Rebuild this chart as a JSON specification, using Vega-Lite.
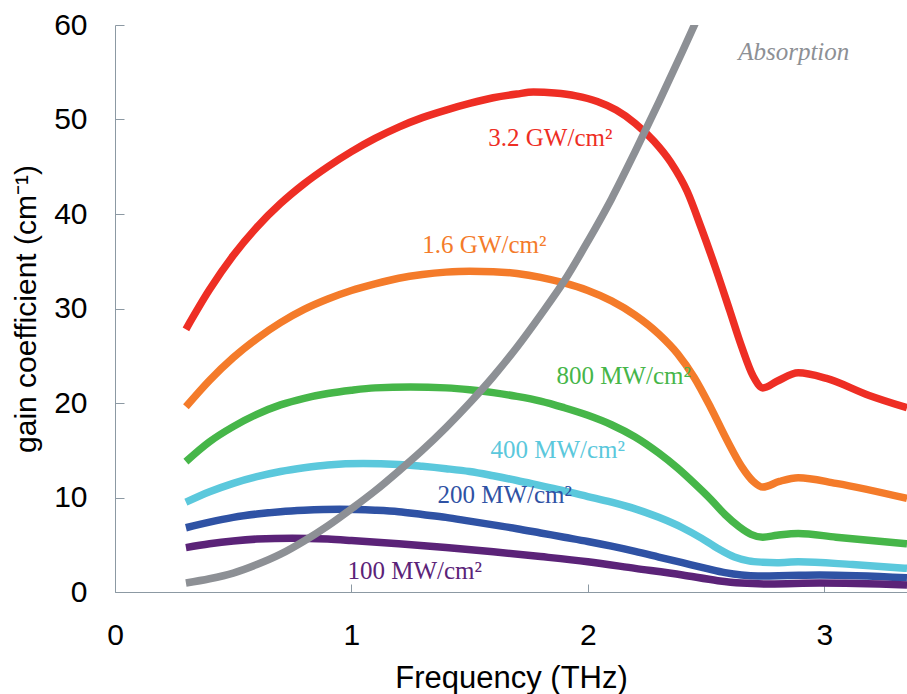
{
  "$schema": "https://vega.github.io/schema/vega-lite/v6.json",
  "width": 792,
  "height": 567,
  "autosize": {"type": "none"},
  "padding": {"left": 115, "top": 25, "right": 0, "bottom": 102},
  "background": "white",
  "view": {"stroke": null},
  "datasets": {
    "curves": [
      {"series": "3.2 GW", "f": 0.30, "g": 27.8}, {"series": "3.2 GW", "f": 0.40, "g": 32.0}, {"series": "3.2 GW", "f": 0.50, "g": 35.6}, {"series": "3.2 GW", "f": 0.60, "g": 38.6}, {"series": "3.2 GW", "f": 0.70, "g": 41.1}, {"series": "3.2 GW", "f": 0.80, "g": 43.2}, {"series": "3.2 GW", "f": 0.90, "g": 45.0}, {"series": "3.2 GW", "f": 1.00, "g": 46.6}, {"series": "3.2 GW", "f": 1.10, "g": 48.0}, {"series": "3.2 GW", "f": 1.20, "g": 49.2}, {"series": "3.2 GW", "f": 1.30, "g": 50.2}, {"series": "3.2 GW", "f": 1.40, "g": 51.0}, {"series": "3.2 GW", "f": 1.50, "g": 51.7}, {"series": "3.2 GW", "f": 1.60, "g": 52.3}, {"series": "3.2 GW", "f": 1.70, "g": 52.7}, {"series": "3.2 GW", "f": 1.77, "g": 52.9}, {"series": "3.2 GW", "f": 1.86, "g": 52.8}, {"series": "3.2 GW", "f": 1.95, "g": 52.5}, {"series": "3.2 GW", "f": 2.04, "g": 51.9}, {"series": "3.2 GW", "f": 2.12, "g": 51.0}, {"series": "3.2 GW", "f": 2.20, "g": 49.6}, {"series": "3.2 GW", "f": 2.28, "g": 47.7}, {"series": "3.2 GW", "f": 2.35, "g": 45.5}, {"series": "3.2 GW", "f": 2.42, "g": 42.4}, {"series": "3.2 GW", "f": 2.48, "g": 38.5}, {"series": "3.2 GW", "f": 2.54, "g": 34.3}, {"series": "3.2 GW", "f": 2.60, "g": 29.8}, {"series": "3.2 GW", "f": 2.65, "g": 26.0}, {"series": "3.2 GW", "f": 2.70, "g": 22.8}, {"series": "3.2 GW", "f": 2.74, "g": 21.6}, {"series": "3.2 GW", "f": 2.80, "g": 22.3}, {"series": "3.2 GW", "f": 2.89, "g": 23.2}, {"series": "3.2 GW", "f": 3.01, "g": 22.6}, {"series": "3.2 GW", "f": 3.19, "g": 20.8}, {"series": "3.2 GW", "f": 3.35, "g": 19.5},
      {"series": "1.6 GW", "f": 0.30, "g": 19.6}, {"series": "1.6 GW", "f": 0.40, "g": 22.4}, {"series": "1.6 GW", "f": 0.50, "g": 24.8}, {"series": "1.6 GW", "f": 0.60, "g": 26.8}, {"series": "1.6 GW", "f": 0.70, "g": 28.5}, {"series": "1.6 GW", "f": 0.80, "g": 29.9}, {"series": "1.6 GW", "f": 0.90, "g": 31.0}, {"series": "1.6 GW", "f": 1.00, "g": 31.9}, {"series": "1.6 GW", "f": 1.10, "g": 32.6}, {"series": "1.6 GW", "f": 1.20, "g": 33.2}, {"series": "1.6 GW", "f": 1.30, "g": 33.6}, {"series": "1.6 GW", "f": 1.40, "g": 33.85}, {"series": "1.6 GW", "f": 1.50, "g": 33.95}, {"series": "1.6 GW", "f": 1.60, "g": 33.9}, {"series": "1.6 GW", "f": 1.70, "g": 33.7}, {"series": "1.6 GW", "f": 1.80, "g": 33.3}, {"series": "1.6 GW", "f": 1.90, "g": 32.7}, {"series": "1.6 GW", "f": 2.00, "g": 31.9}, {"series": "1.6 GW", "f": 2.10, "g": 30.8}, {"series": "1.6 GW", "f": 2.20, "g": 29.3}, {"series": "1.6 GW", "f": 2.30, "g": 27.3}, {"series": "1.6 GW", "f": 2.38, "g": 25.2}, {"series": "1.6 GW", "f": 2.45, "g": 22.7}, {"series": "1.6 GW", "f": 2.52, "g": 19.5}, {"series": "1.6 GW", "f": 2.59, "g": 16.0}, {"series": "1.6 GW", "f": 2.65, "g": 13.3}, {"series": "1.6 GW", "f": 2.70, "g": 11.7}, {"series": "1.6 GW", "f": 2.74, "g": 11.1}, {"series": "1.6 GW", "f": 2.81, "g": 11.7}, {"series": "1.6 GW", "f": 2.89, "g": 12.1}, {"series": "1.6 GW", "f": 3.05, "g": 11.5}, {"series": "1.6 GW", "f": 3.35, "g": 9.9},
      {"series": "800 MW", "f": 0.30, "g": 13.8}, {"series": "800 MW", "f": 0.40, "g": 15.9}, {"series": "800 MW", "f": 0.50, "g": 17.5}, {"series": "800 MW", "f": 0.60, "g": 18.8}, {"series": "800 MW", "f": 0.70, "g": 19.8}, {"series": "800 MW", "f": 0.80, "g": 20.5}, {"series": "800 MW", "f": 0.90, "g": 21.0}, {"series": "800 MW", "f": 1.00, "g": 21.35}, {"series": "800 MW", "f": 1.10, "g": 21.6}, {"series": "800 MW", "f": 1.25, "g": 21.7}, {"series": "800 MW", "f": 1.40, "g": 21.6}, {"series": "800 MW", "f": 1.50, "g": 21.4}, {"series": "800 MW", "f": 1.60, "g": 21.1}, {"series": "800 MW", "f": 1.70, "g": 20.7}, {"series": "800 MW", "f": 1.80, "g": 20.2}, {"series": "800 MW", "f": 1.90, "g": 19.5}, {"series": "800 MW", "f": 2.00, "g": 18.7}, {"series": "800 MW", "f": 2.10, "g": 17.7}, {"series": "800 MW", "f": 2.20, "g": 16.4}, {"series": "800 MW", "f": 2.30, "g": 14.7}, {"series": "800 MW", "f": 2.38, "g": 13.1}, {"series": "800 MW", "f": 2.45, "g": 11.5}, {"series": "800 MW", "f": 2.52, "g": 9.8}, {"series": "800 MW", "f": 2.58, "g": 8.2}, {"series": "800 MW", "f": 2.64, "g": 6.9}, {"series": "800 MW", "f": 2.69, "g": 6.1}, {"series": "800 MW", "f": 2.74, "g": 5.8}, {"series": "800 MW", "f": 2.80, "g": 6.0}, {"series": "800 MW", "f": 2.89, "g": 6.2}, {"series": "800 MW", "f": 3.05, "g": 5.8}, {"series": "800 MW", "f": 3.35, "g": 5.1},
      {"series": "400 MW", "f": 0.30, "g": 9.5}, {"series": "400 MW", "f": 0.40, "g": 10.6}, {"series": "400 MW", "f": 0.50, "g": 11.5}, {"series": "400 MW", "f": 0.60, "g": 12.2}, {"series": "400 MW", "f": 0.70, "g": 12.75}, {"series": "400 MW", "f": 0.80, "g": 13.15}, {"series": "400 MW", "f": 0.90, "g": 13.45}, {"series": "400 MW", "f": 1.05, "g": 13.6}, {"series": "400 MW", "f": 1.20, "g": 13.5}, {"series": "400 MW", "f": 1.30, "g": 13.3}, {"series": "400 MW", "f": 1.40, "g": 13.05}, {"series": "400 MW", "f": 1.50, "g": 12.75}, {"series": "400 MW", "f": 1.60, "g": 12.3}, {"series": "400 MW", "f": 1.70, "g": 11.8}, {"series": "400 MW", "f": 1.80, "g": 11.25}, {"series": "400 MW", "f": 1.90, "g": 10.7}, {"series": "400 MW", "f": 2.00, "g": 10.1}, {"series": "400 MW", "f": 2.10, "g": 9.5}, {"series": "400 MW", "f": 2.20, "g": 8.8}, {"series": "400 MW", "f": 2.30, "g": 7.9}, {"series": "400 MW", "f": 2.40, "g": 6.8}, {"series": "400 MW", "f": 2.48, "g": 5.7}, {"series": "400 MW", "f": 2.55, "g": 4.6}, {"series": "400 MW", "f": 2.62, "g": 3.7}, {"series": "400 MW", "f": 2.68, "g": 3.3}, {"series": "400 MW", "f": 2.74, "g": 3.15}, {"series": "400 MW", "f": 2.80, "g": 3.1}, {"series": "400 MW", "f": 2.89, "g": 3.2}, {"series": "400 MW", "f": 3.12, "g": 2.9}, {"series": "400 MW", "f": 3.35, "g": 2.5},
      {"series": "200 MW", "f": 0.30, "g": 6.8}, {"series": "200 MW", "f": 0.40, "g": 7.4}, {"series": "200 MW", "f": 0.50, "g": 7.9}, {"series": "200 MW", "f": 0.60, "g": 8.25}, {"series": "200 MW", "f": 0.70, "g": 8.5}, {"series": "200 MW", "f": 0.80, "g": 8.65}, {"series": "200 MW", "f": 0.95, "g": 8.75}, {"series": "200 MW", "f": 1.10, "g": 8.65}, {"series": "200 MW", "f": 1.20, "g": 8.5}, {"series": "200 MW", "f": 1.30, "g": 8.2}, {"series": "200 MW", "f": 1.40, "g": 7.9}, {"series": "200 MW", "f": 1.50, "g": 7.5}, {"series": "200 MW", "f": 1.60, "g": 7.1}, {"series": "200 MW", "f": 1.70, "g": 6.7}, {"series": "200 MW", "f": 1.80, "g": 6.25}, {"series": "200 MW", "f": 1.90, "g": 5.8}, {"series": "200 MW", "f": 2.00, "g": 5.35}, {"series": "200 MW", "f": 2.10, "g": 4.85}, {"series": "200 MW", "f": 2.20, "g": 4.3}, {"series": "200 MW", "f": 2.30, "g": 3.7}, {"series": "200 MW", "f": 2.40, "g": 3.1}, {"series": "200 MW", "f": 2.50, "g": 2.5}, {"series": "200 MW", "f": 2.58, "g": 2.05}, {"series": "200 MW", "f": 2.65, "g": 1.8}, {"series": "200 MW", "f": 2.72, "g": 1.7}, {"series": "200 MW", "f": 2.85, "g": 1.75}, {"series": "200 MW", "f": 2.98, "g": 1.8}, {"series": "200 MW", "f": 3.35, "g": 1.5},
      {"series": "100 MW", "f": 0.30, "g": 4.7}, {"series": "100 MW", "f": 0.40, "g": 5.1}, {"series": "100 MW", "f": 0.50, "g": 5.4}, {"series": "100 MW", "f": 0.60, "g": 5.6}, {"series": "100 MW", "f": 0.75, "g": 5.7}, {"series": "100 MW", "f": 0.90, "g": 5.6}, {"series": "100 MW", "f": 1.00, "g": 5.45}, {"series": "100 MW", "f": 1.20, "g": 5.1}, {"series": "100 MW", "f": 1.40, "g": 4.7}, {"series": "100 MW", "f": 1.60, "g": 4.25}, {"series": "100 MW", "f": 1.80, "g": 3.75}, {"series": "100 MW", "f": 2.00, "g": 3.2}, {"series": "100 MW", "f": 2.20, "g": 2.5}, {"series": "100 MW", "f": 2.40, "g": 1.8}, {"series": "100 MW", "f": 2.55, "g": 1.2}, {"series": "100 MW", "f": 2.65, "g": 0.95}, {"series": "100 MW", "f": 2.77, "g": 0.85}, {"series": "100 MW", "f": 2.98, "g": 0.95}, {"series": "100 MW", "f": 3.35, "g": 0.75},
      {"series": "Absorption", "f": 0.30, "g": 0.95}, {"series": "Absorption", "f": 0.40, "g": 1.4}, {"series": "Absorption", "f": 0.50, "g": 2.0}, {"series": "Absorption", "f": 0.60, "g": 2.9}, {"series": "Absorption", "f": 0.70, "g": 4.0}, {"series": "Absorption", "f": 0.80, "g": 5.4}, {"series": "Absorption", "f": 0.90, "g": 7.0}, {"series": "Absorption", "f": 1.00, "g": 8.8}, {"series": "Absorption", "f": 1.10, "g": 10.7}, {"series": "Absorption", "f": 1.20, "g": 12.8}, {"series": "Absorption", "f": 1.30, "g": 15.0}, {"series": "Absorption", "f": 1.40, "g": 17.4}, {"series": "Absorption", "f": 1.50, "g": 20.0}, {"series": "Absorption", "f": 1.60, "g": 22.8}, {"series": "Absorption", "f": 1.70, "g": 25.9}, {"series": "Absorption", "f": 1.80, "g": 29.3}, {"series": "Absorption", "f": 1.90, "g": 32.9}, {"series": "Absorption", "f": 2.00, "g": 37.1}, {"series": "Absorption", "f": 2.10, "g": 41.6}, {"series": "Absorption", "f": 2.20, "g": 46.6}, {"series": "Absorption", "f": 2.30, "g": 51.8}, {"series": "Absorption", "f": 2.40, "g": 57.2}, {"series": "Absorption", "f": 2.46, "g": 60.5}, {"series": "Absorption", "f": 2.55, "g": 65.5}
    ],
    "labels": [
      {"series": "3.2 GW", "text": "3.2 GW/cm²", "f": 1.579, "g": 48.0},
      {"series": "1.6 GW", "text": "1.6 GW/cm²", "f": 1.30, "g": 36.7},
      {"series": "800 MW", "text": "800 MW/cm²", "f": 1.867, "g": 22.9},
      {"series": "400 MW", "text": "400 MW/cm²", "f": 1.588, "g": 15.0},
      {"series": "200 MW", "text": "200 MW/cm²", "f": 1.364, "g": 10.3},
      {"series": "100 MW", "text": "100 MW/cm²", "f": 0.983, "g": 2.2},
      {"series": "Absorption", "text": "Absorption", "f": 2.636, "g": 57.1}
    ]
  },
  "layer": [
    {
      "data": {"name": "curves"},
      "mark": {"type": "line", "strokeWidth": 7.5, "interpolate": "monotone", "clip": true, "strokeCap": "butt"},
      "encoding": {
        "x": {
          "field": "f", "type": "quantitative",
          "scale": {"domain": [0, 3.35], "nice": false, "zero": false},
          "axis": {
            "values": [0, 1, 2, 3], "format": "d", "grid": false, "labelFlush": false,
            "title": "Frequency (THz)",
            "labelFont": "Liberation Sans", "labelFontSize": 30, "labelColor": "black",
            "labelPadding": 36,
            "tickSize": -8, "tickColor": "#8C99A3", "domainColor": "#8C99A3",
            "titleFont": "Liberation Sans", "titleFontSize": 31, "titleFontWeight": "normal", "titleColor": "black",
            "titlePadding": 13
          }
        },
        "y": {
          "field": "g", "type": "quantitative",
          "scale": {"domain": [0, 60], "nice": false},
          "axis": {
            "values": [0, 10, 20, 30, 40, 50, 60], "grid": false, "labelFlush": false,
            "title": "gain coefficient (cm⁻¹)",
            "labelFont": "Liberation Sans", "labelFontSize": 30, "labelColor": "black",
            "labelPadding": 37,
            "tickSize": -9, "tickColor": "#8C99A3", "domainColor": "#8C99A3",
            "titleFont": "Liberation Sans", "titleFontSize": 30, "titleFontWeight": "normal", "titleColor": "black",
            "titlePadding": 12
          }
        },
        "color": {
          "field": "series", "type": "nominal", "legend": null,
          "scale": {
            "domain": ["3.2 GW", "1.6 GW", "800 MW", "400 MW", "200 MW", "100 MW", "Absorption"],
            "range": ["#EE2E24", "#F47B2A", "#46B649", "#5BC8DC", "#2F52A4", "#5B2378", "#8D9095"]
          }
        }
      }
    },
    {
      "data": {"name": "labels"},
      "transform": [{"filter": "datum.series !== 'Absorption'"}],
      "mark": {"type": "text", "font": "Liberation Serif", "fontSize": 25, "align": "left", "baseline": "middle"},
      "encoding": {
        "x": {"field": "f", "type": "quantitative"},
        "y": {"field": "g", "type": "quantitative"},
        "text": {"field": "text"},
        "color": {"field": "series", "type": "nominal", "legend": null}
      }
    },
    {
      "data": {"name": "labels"},
      "transform": [{"filter": "datum.series === 'Absorption'"}],
      "mark": {"type": "text", "font": "Liberation Serif", "fontSize": 25, "fontStyle": "italic", "align": "left", "baseline": "middle"},
      "encoding": {
        "x": {"field": "f", "type": "quantitative"},
        "y": {"field": "g", "type": "quantitative"},
        "text": {"field": "text"},
        "color": {"field": "series", "type": "nominal", "legend": null}
      }
    },
    {
      "mark": {"type": "rule", "color": "#9A9FA3", "strokeWidth": 1},
      "encoding": {"y": {"datum": 60}}
    }
  ]
}
